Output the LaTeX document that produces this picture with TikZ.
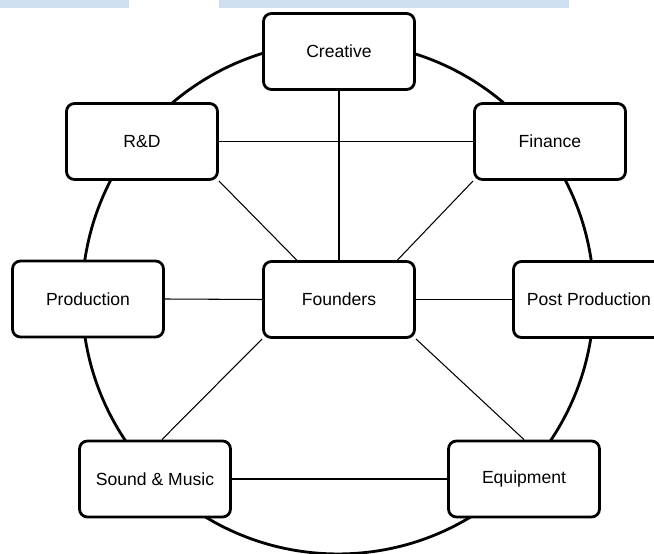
\documentclass[tikz,border=0pt]{standalone}
\usepackage{fontspec}
\setmainfont{Liberation Sans}
\usepackage{tikz}
\usetikzlibrary{positioning}
\definecolor{bandblue}{RGB}{206,224,240}

\begin{document}
\begin{tikzpicture}[
  x=0.02cm, y=-0.02cm,
  box/.style={draw, rounded corners=4.5pt, line width=1.6pt, fill=white,
              font=\fontsize{10}{12}\selectfont,
              minimum width=3.02cm, minimum height=1.52cm, inner sep=0pt},
  ring/.style={line width=1.6pt},
  link/.style={line width=0.6pt},
]
\useasboundingbox (0,0) rectangle (654,554);
\clip (0,0) rectangle (654,554);

% header strip
\fill[bandblue] (0,0) rectangle (129,8);
\fill[bandblue] (219,0) rectangle (569,8);

% outer ring
\draw[ring] (338,298) circle [radius=5.12cm];

% departments
\node[box] (creative)   at (339,51.5) {Creative};
\node[box] (rnd)        at (142,141.5) {R\&D};
\node[box] (finance)    at (550,141.5) {Finance};
\node[box] (production) at (88,299)   {Production};
\node[box] (founders)   at (339,299.5) {Founders};
\node[box] (post)       at (589,299.5) {Post Production};
\node[box] (sound)      at (155,479)  {Sound \& Music};
\node[box] (equipment)  at (524,479)  {Equipment};

% links
\draw[link] (creative.south) -- (founders.north);
\draw[link] (rnd.east) -- (finance.west);
\draw[link] (rnd.south east) -- (founders.137);
\draw[link] (finance.south west) -- (founders.34);
\draw[link] (production.east) -- (founders.west);
\draw[link] (founders.east) -- (post.west);
\draw[link] (founders.south west) -- (sound.80);
\draw[link] (founders.south east) -- (equipment.north);
\draw[link] (sound.east) -- (equipment.west);

\end{tikzpicture}
\end{document}
